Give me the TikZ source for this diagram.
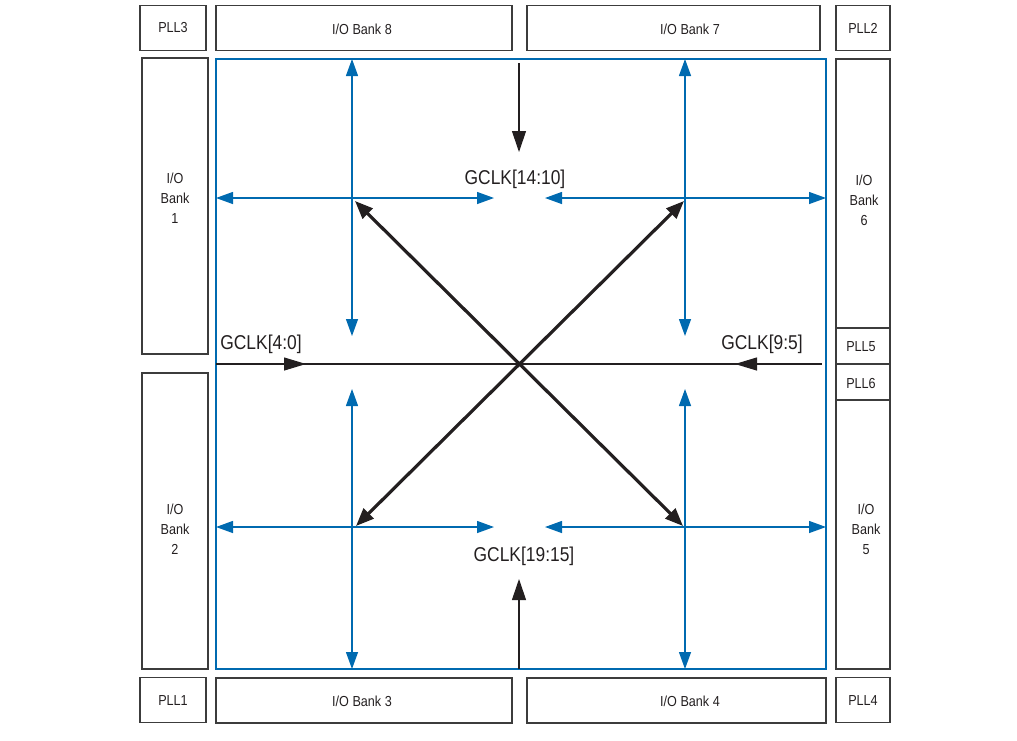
\documentclass[tikz,border=0pt]{standalone}
\usepackage{fontspec}
\setmainfont{Liberation Sans}[FakeStretch=0.87]
\usetikzlibrary{arrows.meta}
\definecolor{fpgablue}{RGB}{0,106,176}
\definecolor{boxgray}{RGB}{60,60,60}
\definecolor{inkblack}{RGB}{35,31,32}
\tikzset{
  box/.style={draw=boxgray, line width=1.1pt, inner sep=0pt},
  lbl/.style={inner sep=0pt, align=center, text=inkblack, font=\fontsize{14.5}{20}\selectfont},
  gclk/.style={inner sep=0pt, text=inkblack, font=\fontsize{20}{24}\selectfont},
  bluearrow/.style={draw=fpgablue, line width=1.3pt, {Triangle[length=17pt,width=12pt]}-{Triangle[length=17pt,width=12pt]}},
  feed/.style={draw=inkblack, line width=1.1pt, -{Triangle[length=21pt,width=14pt]}},
  diag/.style={draw=inkblack, line width=3.2pt, {Triangle[length=18pt,width=14pt]}-{Triangle[length=18pt,width=14pt]}},
}
\begin{document}
\begin{tikzpicture}[x=1pt,y=-1pt]
\useasboundingbox (0,0) rectangle (1017,740);
% top row
\node[box, minimum width=66pt, minimum height=45pt] (pll3) at (173,28) {};
\node[lbl] at (pll3) {PLL3};
\node[box, minimum width=296pt, minimum height=45pt] (bank8) at (364,28) {};
\node[lbl] at (362,29) {I/O Bank 8};
\node[box, minimum width=293pt, minimum height=45pt] (bank7) at (673.5,28) {};
\node[lbl] at (690,29) {I/O Bank 7};
\node[box, minimum width=54pt, minimum height=45pt] (pll2) at (863,28) {};
\node[lbl] at (pll2) {PLL2};
% bottom row
\node[box, minimum width=66pt, minimum height=45pt] (pll1) at (173,700) {};
\node[lbl] at (pll1) {PLL1};
\node[box, minimum width=296pt, minimum height=45pt] (bank3) at (364,700.5) {};
\node[lbl] at (362,701) {I/O Bank 3};
\node[box, minimum width=299pt, minimum height=45pt] (bank4) at (676.5,700.5) {};
\node[lbl] at (690,701) {I/O Bank 4};
\node[box, minimum width=54pt, minimum height=45pt] (pll4) at (863,700) {};
\node[lbl] at (pll4) {PLL4};
% left column
\node[box, minimum width=66pt, minimum height=296pt] (bank1) at (175,206) {};
\node[lbl] at (175,198) {I/O\\Bank\\1};
\node[box, minimum width=66pt, minimum height=296pt] (bank2) at (175,521) {};
\node[lbl] at (175,529) {I/O\\Bank\\2};
% right column
\node[box, minimum width=54pt, minimum height=269pt] (bank6) at (863,193.5) {};
\node[lbl] at (864,200) {I/O\\Bank\\6};
\node[box, minimum width=54pt, minimum height=36pt] (pll5) at (863,346) {};
\node[lbl] at (861,347) {PLL5};
\node[box, minimum width=54pt, minimum height=36pt] (pll6) at (863,382) {};
\node[lbl] at (861,383) {PLL6};
\node[box, minimum width=54pt, minimum height=269pt] (bank5) at (863,534.5) {};
\node[lbl] at (866,529) {I/O\\Bank\\5};
% core frame
\node[draw=fpgablue, line width=1.2pt, minimum width=610pt, minimum height=610pt, inner sep=0pt] (core) at (521,364) {};
% blue clock spines
\coordinate (hTL) at (216,198); \coordinate (hTM1) at (494,198);
\coordinate (hTM2) at (545,198); \coordinate (hTR) at (826,198);
\coordinate (hBL) at (216,527); \coordinate (hBM1) at (494,527);
\coordinate (hBM2) at (545,527); \coordinate (hBR) at (826,527);
\coordinate (vLT) at (352,59); \coordinate (vLM1) at (352,336);
\coordinate (vLM2) at (352,389); \coordinate (vLB) at (352,669);
\coordinate (vRT) at (685,59); \coordinate (vRM1) at (685,336);
\coordinate (vRM2) at (685,389); \coordinate (vRB) at (685,669);
\draw[bluearrow] (hTL) -- (hTM1);
\draw[bluearrow] (hTM2) -- (hTR);
\draw[bluearrow] (hBL) -- (hBM1);
\draw[bluearrow] (hBM2) -- (hBR);
\draw[bluearrow] (vLT) -- (vLM1);
\draw[bluearrow] (vLM2) -- (vLB);
\draw[bluearrow] (vRT) -- (vRM1);
\draw[bluearrow] (vRM2) -- (vRB);
% black GCLK feeds
\coordinate (topS) at (519,63); \coordinate (topE) at (519,152);
\coordinate (botS) at (519,669); \coordinate (botE) at (519,579);
\draw[feed] (topS) -- (topE);
\draw[feed] (botS) -- (botE);
\coordinate (midL) at (216,364); \coordinate (midR) at (822,364);
\draw[draw=inkblack, line width=1.1pt] (midL) -- (midR);
\coordinate (aLs) at (270,364); \coordinate (aLe) at (306,364);
\coordinate (aRs) at (770,364); \coordinate (aRe) at (735,364);
\draw[feed, -{Triangle[length=22pt,width=13pt]}] (aLs) -- (aLe);
\draw[feed, -{Triangle[length=22pt,width=13pt]}] (aRs) -- (aRe);
% diagonals
\coordinate (dTL) at (355,201); \coordinate (dBR) at (683,526);
\coordinate (dTR) at (684,201); \coordinate (dBL) at (356,526);
\draw[diag] (dTL) -- (dBR);
\draw[diag] (dTR) -- (dBL);
% labels
\node[gclk] (g1410) at (515,179) {GCLK[14:10]};
\node[gclk] (g1915) at (524,556) {GCLK[19:15]};
\node[gclk] (g40) at (261,344) {GCLK[4:0]};
\node[gclk] (g95) at (762,344) {GCLK[9:5]};
\end{tikzpicture}
\end{document}
